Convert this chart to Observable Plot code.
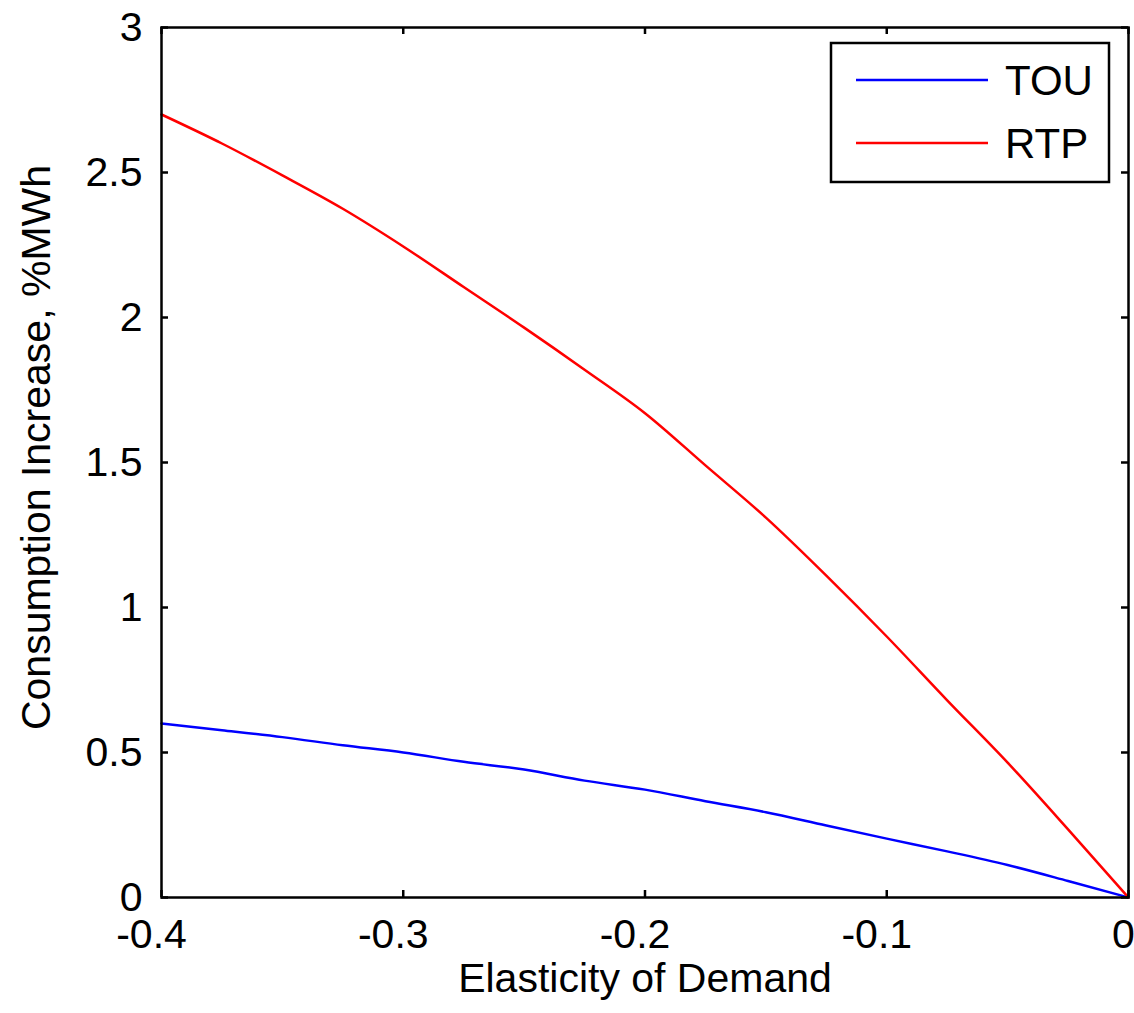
<!DOCTYPE html>
<html><head><meta charset="utf-8">
<script src="https://cdn.jsdelivr.net/npm/d3@7"></script>
<script src="https://cdn.jsdelivr.net/npm/@observablehq/plot@0.6"></script>
<style>body{margin:0;background:#fff} #chart{width:1134px;height:1013px}</style>
</head><body><div id="chart"></div>
<script>
const elasticity = [-0.4, -0.375, -0.35, -0.325, -0.3, -0.275, -0.25, -0.225, -0.2, -0.175, -0.15, -0.125, -0.1, -0.075, -0.05, -0.025, 0];
const tou = [0.60, 0.577, 0.553, 0.525, 0.50, 0.468, 0.441, 0.403, 0.372, 0.332, 0.294, 0.248, 0.203, 0.159, 0.112, 0.057, 0];
const rtp = [2.70, 2.60, 2.49, 2.375, 2.245, 2.105, 1.965, 1.82, 1.67, 1.49, 1.31, 1.11, 0.90, 0.68, 0.465, 0.235, 0];
const seriesNames = ["TOU", "RTP"];
const seriesColors = ["#0000ff", "#ff0000"];
const xTicks = [-0.4, -0.3, -0.2, -0.1, 0];
const yTicks = [0, 0.5, 1, 1.5, 2, 2.5, 3];
const xTitle = "Elasticity of Demand";
const yTitle = "Consumption Increase, %MWh";

const seriesValues = [tou, rtp];
const rows = seriesNames.flatMap((name, s) =>
  elasticity.map((e, i) => ({series: name, x: e, y: seriesValues[s][i]})));

const FONT = "'Liberation Sans', Arial, Helvetica, sans-serif";
const FS = 41;

function legendMark(index, scales, values, dim) {
  const g = d3.create("svg:g");
  const right = dim.width - dim.marginRight - 19;
  const w = 278, h = 139, top = dim.marginTop + 16;
  const left = right - w;
  g.append("rect").attr("x", left).attr("y", top).attr("width", w).attr("height", h)
    .attr("fill", "white").attr("stroke", "black").attr("stroke-width", 2.5);
  seriesNames.forEach((n, i) => {
    const cy = top + 37 + i * 63;
    g.append("line").attr("x1", left + 25).attr("x2", left + 157).attr("y1", cy).attr("y2", cy)
      .attr("stroke", scales.color(n)).attr("stroke-width", 2.5);
    g.append("text").attr("x", left + 174).attr("y", cy).attr("dy", "0.35em")
      .attr("text-anchor", "start")
      .attr("font-size", 42).attr("font-family", FONT).attr("fill", "black").text(n);
  });
  return g.node();
}

const W = 1134, H = 1013, mL = 161, mR = 6, mT = 27, mB = 116;
const fw = W - mL - mR, fh = H - mT - mB, tl = 7;

const chart = Plot.plot({
  width: W, height: H,
  marginLeft: mL, marginRight: mR, marginTop: mT, marginBottom: mB,
  style: {fontFamily: FONT, fontSize: FS + "px", background: "white", color: "black"},
  x: {domain: [-0.4, 0]},
  y: {domain: [0, 3]},
  color: {domain: seriesNames, range: seriesColors},
  marks: [
    Plot.line(rows, {x: "x", y: "y", z: "series", stroke: "series", strokeWidth: 2.5, curve: "monotone-x"}),
    Plot.ruleX(xTicks, {x: d => d, insetTop: fh - tl, stroke: "black", strokeWidth: 2.5}),
    Plot.ruleX(xTicks, {x: d => d, insetBottom: fh - tl, stroke: "black", strokeWidth: 2.5}),
    Plot.ruleY(yTicks, {y: d => d, insetRight: fw - tl, stroke: "black", strokeWidth: 2.5}),
    Plot.ruleY(yTicks, {y: d => d, insetLeft: fw - tl, stroke: "black", strokeWidth: 2.5}),
    Plot.frame({stroke: "black", strokeWidth: 2.5}),
    Plot.axisX(xTicks.filter(d => d < 0), {tickSize: 0, tickPadding: 21, tickFormat: d => String(d),
      dx: -10, label: null, fill: "black"}),
    Plot.axisX(xTicks.filter(d => d >= 0), {tickSize: 0, tickPadding: 21, tickFormat: d => String(d),
      dx: -5, label: null, fill: "black"}),
    Plot.axisX([], {tickSize: 0, label: xTitle, labelAnchor: "center", labelOffset: 94,
      labelArrow: "none", fill: "black"}),
    Plot.axisY(yTicks, {tickSize: 0, tickPadding: 19, tickFormat: d => String(d),
      label: null, fill: "black"}),
    Plot.text([yTitle], {text: d => d, frameAnchor: "left", rotate: -90, dx: -141, dy: -15,
      lineAnchor: "top", textAnchor: "middle", fill: "black", fontSize: FS}),
    legendMark
  ]
});
document.getElementById("chart").appendChild(chart);
</script>
</body></html>
